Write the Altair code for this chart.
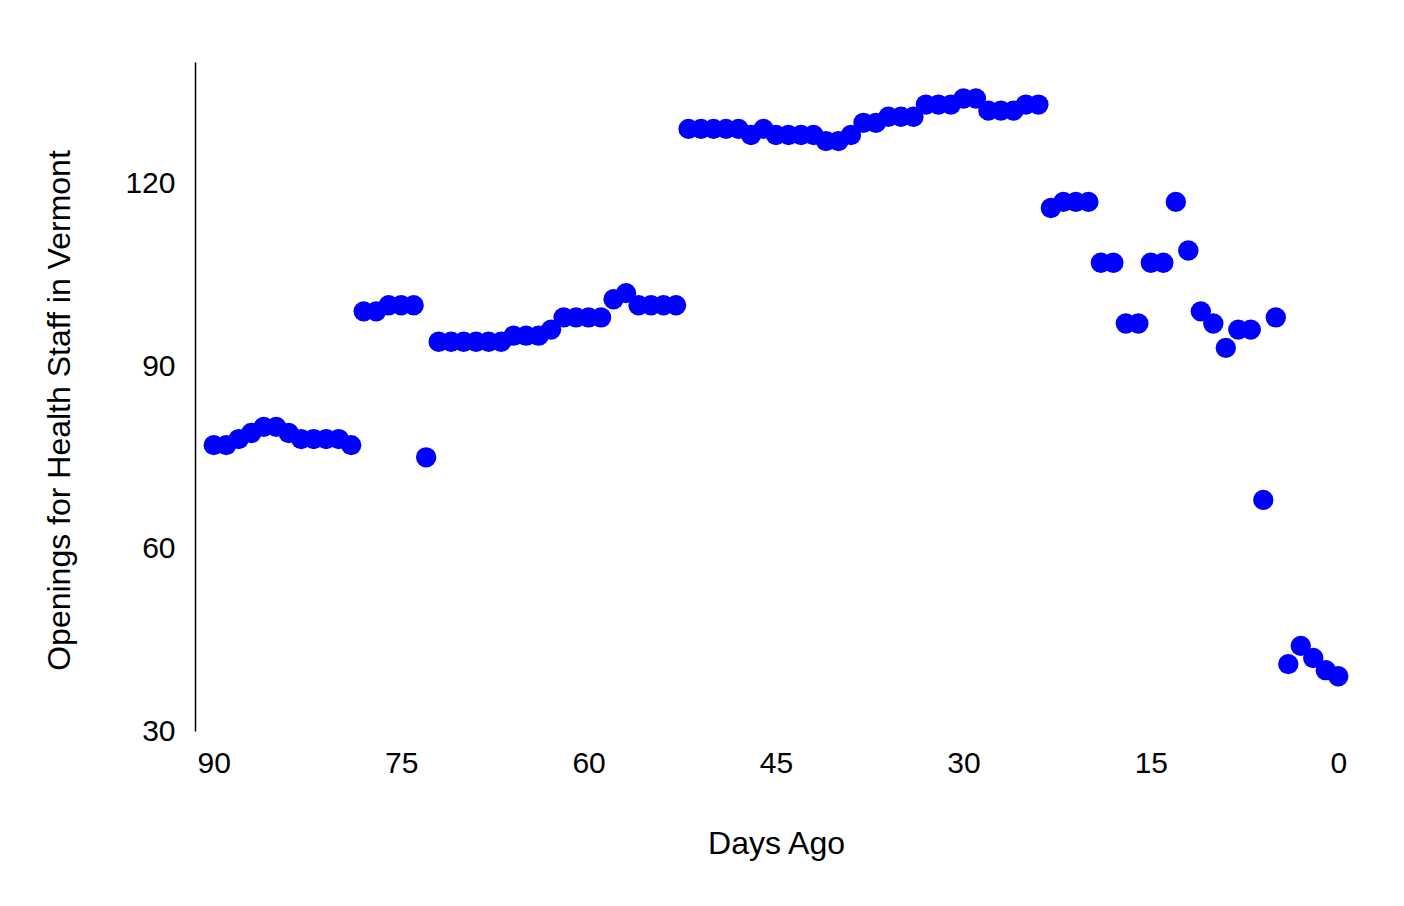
import altair as alt
import pandas as pd

days_ago = list(range(90, -1, -1))
openings = [
    77, 77, 78, 79, 80, 80, 79, 78, 78, 78, 78, 77,   # 90..79
    99, 99, 100, 100, 100,                            # 78..74
    75,                                               # 73
    94, 94, 94, 94, 94, 94,                           # 72..67
    95, 95, 95,                                       # 66..64
    96,                                               # 63
    98, 98, 98, 98,                                   # 62..59
    101, 102,                                         # 58..57
    100, 100, 100, 100,                               # 56..53
    129, 129, 129, 129, 129,                          # 52..48
    128, 129,                                         # 47..46
    128, 128, 128, 128,                               # 45..42
    127, 127,                                         # 41..40
    128,                                              # 39
    130, 130,                                         # 38..37
    131, 131, 131,                                    # 36..34
    133, 133, 133,                                    # 33..31
    134, 134,                                         # 30..29
    132, 132, 132,                                    # 28..26
    133, 133,                                         # 25..24
    116,                                              # 23
    117, 117, 117,                                    # 22..20
    107, 107,                                         # 19..18
    97, 97,                                           # 17..16
    107, 107,                                         # 15..14
    117, 109, 99, 97, 93, 96, 96, 68, 98,             # 13..5
    41, 44, 42, 40, 39,                               # 4..0
]
x_ticks = [90, 75, 60, 45, 30, 15, 0]
y_ticks = [30, 60, 90, 120]

df = pd.DataFrame({"days": days_ago, "openings": openings})

FONT = "Liberation Sans, Arial, Helvetica, sans-serif"

chart = alt.Chart(df).mark_circle(size=415, color="#0000ff", opacity=1).encode(
    x=alt.X(
        "days:Q",
        scale=alt.Scale(domain=[91.5, -1.5], nice=False, zero=False),
        axis=alt.Axis(
            title="Days Ago",
            values=x_ticks,
            grid=False,
            domain=False,
            ticks=False,
            tickSize=0,
            labelPadding=17,
            labelFontSize=30,
            titleFontSize=32,
            titleFontWeight="normal",
            titlePadding=50,
            labelFont=FONT,
            titleFont=FONT,
            labelColor="black",
            titleColor="black",
        ),
    ),
    y=alt.Y(
        "openings:Q",
        scale=alt.Scale(domain=[30, 140], nice=False, zero=False),
        axis=alt.Axis(
            title="Openings for Health Staff in Vermont",
            values=y_ticks,
            grid=False,
            domain=True,
            domainColor="black",
            domainWidth=1.5,
            ticks=False,
            tickSize=0,
            labelPadding=20,
            labelFontSize=30,
            titleFontSize=32,
            titleFontWeight="normal",
            titlePadding=48,
            titleY=348,
            labelFont=FONT,
            titleFont=FONT,
            labelColor="black",
            titleColor="black",
        ),
    ),
).properties(
    width=1162,
    height=669,
    autosize=alt.AutoSizeParams(type="none"),
    padding={"left": 187, "top": 54, "right": 30, "bottom": 150},
).configure_view(stroke=None)

chart.save("out.html", embed_options={"renderer": "svg", "actions": False})
